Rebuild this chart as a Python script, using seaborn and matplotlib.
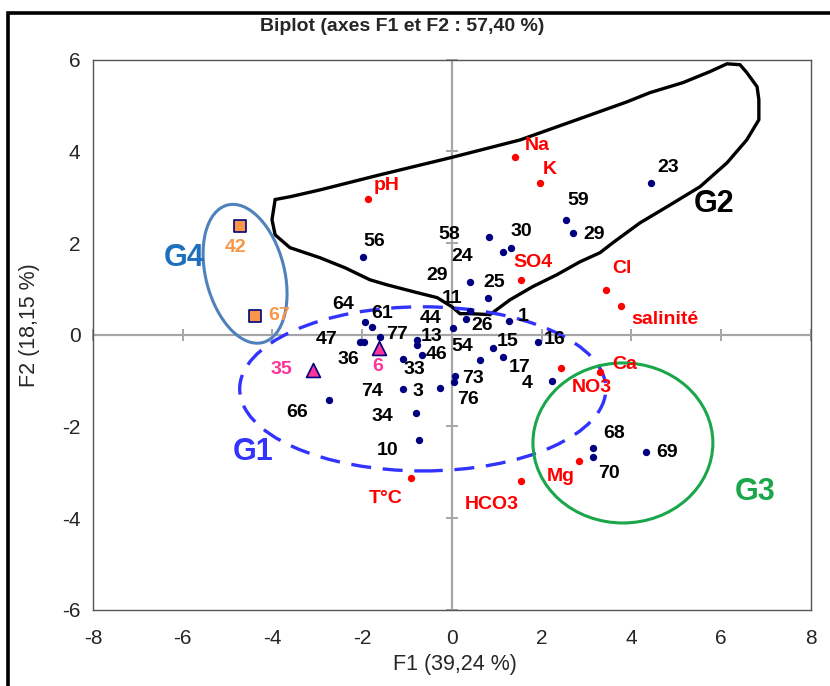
import numpy as np
import pandas as pd
import matplotlib
matplotlib.use("Agg")
import matplotlib.pyplot as plt
from matplotlib import font_manager
from matplotlib.patches import Ellipse, Polygon, Rectangle
import seaborn as sns

# ---- observations (factor scores on F1 / F2) ----
obs_names = ["23", "59", "29", "30", "24", "58", "56", "29", "25", "11",
             "26", "44", "1", "16", "15", "17", "54", "73", "76", "3",
             "4", "64", "61", "77", "47", "36", "13", "", "46", "33",
             "74", "34", "10", "66", "68", "70", "69", "42", "67", "35", "6"]
obs_f1 = [4.43, 2.54, 2.70, 1.31, 1.14, 0.82, -1.98, 0.40, 0.80, 0.40,
          0.31, 0.03, 1.27, 1.92, 0.91, 1.14, 0.62, 0.07, 0.04, -0.27,
          2.23, -1.94, -1.78, -1.60, -2.05, -1.96, -0.78, -0.78, -0.67, -1.09,
          -1.09, -0.80, -0.74, -2.74, 3.14, 3.14, 4.32, -4.72, -4.39, -3.10, -1.63]
obs_f2 = [3.32, 2.51, 2.22, 1.90, 1.81, 2.14, 1.70, 1.16, 0.81, 0.52,
          0.35, 0.15, 0.31, -0.15, -0.28, -0.48, -0.55, -0.90, -1.03, -1.16,
          -1.00, 0.28, 0.17, -0.04, -0.15, -0.15, -0.11, -0.22, -0.44, -0.52,
          -1.18, -1.70, -2.29, -1.42, -2.47, -2.66, -2.55, 2.38, 0.41, -0.76, -0.28]
obs_kind = ["site"] * 37 + ["square", "square", "triangle", "triangle"]

# ---- variables (loadings on F1 / F2) ----
var_names = ["Na", "K", "pH", "SO4", "Cl", "salinité", "NO3", "Ca", "Mg", "HCO3", "T°C"]
var_f1 = [1.40, 1.96, -1.87, 1.54, 3.43, 3.77, 2.43, 3.30, 2.83, 1.54, -0.91]
var_f2 = [3.88, 3.32, 2.97, 1.20, 0.98, 0.63, -0.72, -0.81, -2.75, -3.19, -3.12]

# ---- text ----
title = "Biplot (axes F1 et F2 : 57,40 %)"
xlabel = "F1 (39,24 %)"
ylabel = "F2 (18,15 %)"
x_ticks = [-8, -6, -4, -2, 0, 2, 4, 6, 8]
y_ticks = [-6, -4, -2, 0, 2, 4, 6]

# label placement (offset of each label centre from its point, in pixels)
obs_offsets = [(17, 15), (12, 19), (21, -2), (11, 16), (-41, -5), (-39, 2), (11, 15),
               (-33, 6), (6, 15), (-18, 12), (16, -7), (-23, 9), (14, 4), (17, 2),
               (15, 6), (17, -11), (-18, 13), (18, -2), (14, -18), (-22, -4),
               (-25, -3), (-22, 17), (10, 13), (17, 2), (-33, 2), (-16, -18),
               (15, 3), (0, 0), (15, 0), (11, -11), (-31, -3), (-34, -4), (-31, -11),
               (-32, -13), (21, 15), (16, -17), (21, -1), (-5, -22), (24, 0),
               (-31, 0), (-1, -19)]
var_offsets = [(22, 11), (10, 13), (19, 13), (12, 17), (16, 21), (44, -14),
               (31, -20), (25, 7), (-18, -16), (-29, -23), (-25, -21)]

# ---- group outlines ----
g2_outline = [(-4.01, 2.51), (-3.94, 2.95), (-3.61, 3.01), (-2.94, 3.16), (-1.60, 3.49),
              (-0.04, 3.86), (1.52, 4.25), (3.30, 4.87), (3.90, 5.08), (4.41, 5.28),
              (5.15, 5.50), (5.75, 5.74), (6.13, 5.91), (6.42, 5.89), (6.57, 5.72),
              (6.80, 5.41), (6.84, 5.13), (6.84, 4.69), (6.57, 4.25), (6.13, 3.75),
              (5.53, 3.23), (4.79, 2.79), (4.19, 2.44), (3.59, 2.01), (3.30, 1.79),
              (2.85, 1.59), (2.34, 1.31), (1.80, 1.05), (1.29, 0.76), (0.85, 0.44),
              (0.40, 0.46), (0.18, 0.46), (0.00, 0.61), (-0.33, 0.81), (-0.78, 0.92),
              (-1.45, 1.09), (-1.83, 1.20), (-2.38, 1.46), (-2.94, 1.68), (-3.61, 1.90),
              (-3.94, 2.18)]

NAVY = "#000080"
RED = "#ff0000"
ORANGE = "#f79646"
PINK = "#ff3399"
GRAY = "#a6a6a6"

sns.set_style("white")
installed = {f.name for f in font_manager.fontManager.ttflist}
narrow = "Liberation Sans Narrow" if "Liberation Sans Narrow" in installed else "Liberation Sans"
plt.rcParams["font.family"] = ["Liberation Sans", "DejaVu Sans"]
plt.rcParams["axes.unicode_minus"] = False

obs = pd.DataFrame({"name": obs_names, "F1": obs_f1, "F2": obs_f2, "kind": obs_kind})
var = pd.DataFrame({"name": var_names, "F1": var_f1, "F2": var_f2})

fig = plt.figure(figsize=(8.30, 6.86), dpi=100)
ax = fig.add_axes([0.112, 0.111, 0.865, 0.802])
ax.set_xlim(-8, 8)
ax.set_ylim(-6, 6)

# crosshair axes through the origin with their own tick marks
ax.axhline(0, color=GRAY, lw=1.6, zorder=1)
ax.axvline(0, color=GRAY, lw=1.6, zorder=1)
ax.plot(x_ticks, np.zeros(len(x_ticks)), ls="none", marker="|", ms=8, mew=1.4,
        color=GRAY, zorder=1, clip_on=False)
ax.plot(np.zeros(len(y_ticks)), y_ticks, ls="none", marker="_", ms=8, mew=1.4,
        color=GRAY, zorder=1, clip_on=False)

# group outlines
ax.add_patch(Polygon(g2_outline, closed=True, fill=False, ec="black", lw=2.4, zorder=2))
ax.add_patch(Ellipse((-0.65, -1.18), 8.16, 3.58, fill=False, ec="#3333ff", lw=2.4,
                     ls=(0, (6, 3.5)), zorder=2))
ax.add_patch(Ellipse((3.81, -2.36), 4.01, 3.49, fill=False, ec="#1aa64b", lw=2.2, zorder=2))
ax.add_patch(Ellipse((-4.61, 1.33), 1.75, 3.10, angle=15, fill=False, ec="#4f81bd",
                     lw=2.2, zorder=2))

# points
sns.scatterplot(data=obs[obs.kind == "site"], x="F1", y="F2", color=NAVY, s=28,
                edgecolor=NAVY, linewidth=0, ax=ax, zorder=4, legend=False)
sns.scatterplot(data=var, x="F1", y="F2", color=RED, s=28, edgecolor=RED,
                linewidth=0, ax=ax, zorder=4, legend=False)
sns.scatterplot(data=obs[obs.kind == "square"], x="F1", y="F2", marker="s", color=ORANGE,
                s=70, edgecolor=NAVY, linewidth=1.2, ax=ax, zorder=4, legend=False)
sns.scatterplot(data=obs[obs.kind == "triangle"], x="F1", y="F2", marker="^", color=PINK,
                s=100, edgecolor=NAVY, linewidth=1.2, ax=ax, zorder=4, legend=False)

label_kw = dict(textcoords="offset pixels", ha="center", va="center",
                fontsize=14, fontweight="bold", zorder=5)
for (name, x, y, kind), off in zip(obs[["name", "F1", "F2", "kind"]].itertuples(index=False),
                                   obs_offsets):
    if not name:
        continue
    col = {"site": "black", "square": ORANGE, "triangle": PINK}[kind]
    ax.annotate(name, (x, y), xytext=off, color=col, **label_kw)
for (name, x, y), off in zip(var[["name", "F1", "F2"]].itertuples(index=False), var_offsets):
    ax.annotate(name, (x, y), xytext=off, color=RED, **label_kw)

# group names
gkw = dict(fontsize=22, fontweight="bold", ha="center", va="center", zorder=5)
ax.text(-4.43, -2.55, "G1", color="#3333ff", **gkw)
ax.text(5.84, 2.86, "G2", color="black", **gkw)
ax.text(6.75, -3.43, "G3", color="#1aa64b", **gkw)
ax.text(-5.97, 1.68, "G4", color="#1f6fbf", **gkw)

# frame and ticks
for sp in ax.spines.values():
    sp.set_color("#555555")
    sp.set_linewidth(1.0)
ax.set_xticks(x_ticks)
ax.set_yticks(y_ticks)
ax.tick_params(axis="y", length=0, pad=9)
ax.tick_params(axis="x", length=0, pad=14)
for lab in ax.get_xticklabels() + ax.get_yticklabels():
    lab.set_fontfamily(narrow)
    lab.set_fontsize(15)
ax.set_xlabel("")
ax.set_ylabel("")

fig.text(0.484, 0.962, title, ha="center", va="center", fontsize=14,
         fontweight="bold", family=narrow)
fig.text(0.548, 0.031, xlabel, ha="center", va="center", fontsize=15.5, family=narrow)
fig.text(0.036, 0.526, ylabel, ha="center", va="center", fontsize=15.5, family=narrow,
         rotation=90)

# outer chart border
fig.patches.append(Rectangle((0.0096, -0.2), 1.2, 1.181, transform=fig.transFigure,
                             fill=False, ec="black", lw=2.6, clip_on=False))

fig.savefig("out.png", dpi=100)
